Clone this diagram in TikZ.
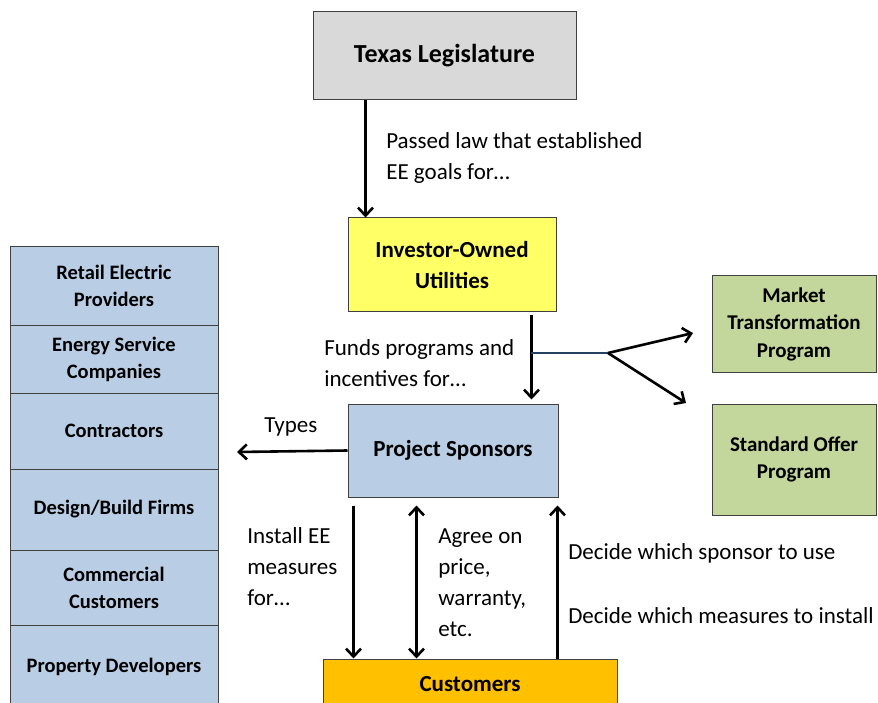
\documentclass[tikz,border=0pt]{standalone}
\usepackage{fontspec}
\setmainfont{Carlito}
\usetikzlibrary{arrows.meta,positioning}
\definecolor{leggray}{HTML}{D9D9D9}
\definecolor{iouyellow}{HTML}{FFFF66}
\definecolor{psblue}{HTML}{B9CDE5}
\definecolor{proggreen}{HTML}{C3D69B}
\definecolor{custorange}{HTML}{FFC000}
\definecolor{boxline}{HTML}{404040}
\definecolor{forkblue}{HTML}{254061}
\begin{document}
\begin{tikzpicture}[x=1pt,y=-1pt,>={Straight Barb[length=8pt,width=15pt]},line width=2.6pt,node distance=2cm,on grid,
  box/.style={draw=boxline,line width=1pt,align=center,inner sep=0pt,font=\fontsize{23}{31}\selectfont\bfseries},
  sidebox/.style={box,fill=psblue,minimum width=208pt,font=\fontsize{20.5}{27}\selectfont\bfseries},
  progbox/.style={box,fill=proggreen,minimum width=164pt,font=\fontsize{21}{27.5}\selectfont\bfseries},
  lbl/.style={anchor=west,align=left,inner sep=0pt,font=\fontsize{23}{31}\selectfont}]
\useasboundingbox (0,0) rectangle (878,703);
  \node[box,fill=leggray,minimum width=263pt,minimum height=88pt,font=\fontsize{26}{31}\selectfont\bfseries] (leg) at (444.5,56) {Texas Legislature};
  \node[box,fill=iouyellow,minimum width=208pt,minimum height=94pt] (iou) [below=209pt of leg,xshift=7.5pt] {Investor-Owned\\Utilities};
  \node[box,fill=psblue,minimum width=210pt,minimum height=93pt]   (ps)  [below=185.5pt of iou,xshift=1pt] {Project Sponsors};
  \node[box,fill=custorange,minimum width=294pt,minimum height=50pt] (cust) [below=233.5pt of ps,xshift=17pt] {Customers};
  \node[progbox,minimum height=96pt]  (mt) at (794,324) {Market\\Transformation\\Program};
  \node[progbox,minimum height=111pt] (so) at (794,459.5) {Standard Offer\\Program};

  % types of sponsors
  \node[sidebox,minimum height=78pt] (rep)  at (114,286)   {Retail Electric\\Providers};
  \node[sidebox,minimum height=68pt] (esco) at (114,359)   {Energy Service\\Companies};
  \node[sidebox,minimum height=76pt] (con)  at (114,431)   {Contractors};
  \node[sidebox,minimum height=81pt] (dbf)  at (114,509.5) {Design/Build Firms};
  \node[sidebox,minimum height=75pt] (cc)   at (114,587.5) {Commercial\\Customers};
  \node[sidebox,minimum height=84pt] (pd)   at (114,667)   {Property Developers};

  \node[lbl] (passed) at (385,158) {Passed law that established\\EE goals for\dots};
  \node[lbl] (funds)  at (323,363.5) {Funds programs and\\incentives for\dots};
  \node[lbl] (types)  at (263,427) {Types};
  \node[lbl] (inst)   at (246,567) {Install EE\\measures\\for\dots};
  \node[lbl] (agree)  at (437,582.5) {Agree on\\price,\\warranty,\\etc.};
  \node[lbl] (spons)  at (567,553) {Decide which sponsor to use};
  \node[lbl] (meas)   at (567,616) {Decide which measures to install};

  \coordinate (fork0) at (531,353);
  \coordinate (fork)  at (608,353);
  \coordinate (tomt)  at (693,333);
  \coordinate (toso)  at (686,403);
  \coordinate (totypes) at (237,452);

  \draw[->] ([xshift=53pt]leg.south west) -- ([xshift=53pt]leg.south west |- iou.north);
  \draw[->] ([xshift=-25pt,yshift=-3pt]iou.south east) -- ([xshift=-25pt,yshift=4pt]iou.south east |- ps.north);
  \draw[forkblue,line width=2pt] (fork0) -- (fork);
  \draw[->] (fork) -- (tomt);
  \draw[->] (fork) -- (toso);
  \draw[->] (ps.west) -- (totypes);
  \draw[->] ([xshift=6pt,yshift=-8pt]ps.south west) -- ([xshift=6pt]ps.south west |- cust.north);
  \draw[<->] ([xshift=69pt,yshift=-8pt]ps.south west) -- ([xshift=69pt]ps.south west |- cust.north);
  \draw[->] ([xshift=-1pt]ps.south east |- cust.north) -- ([xshift=-1pt,yshift=-8pt]ps.south east);
\end{tikzpicture}
\end{document}
